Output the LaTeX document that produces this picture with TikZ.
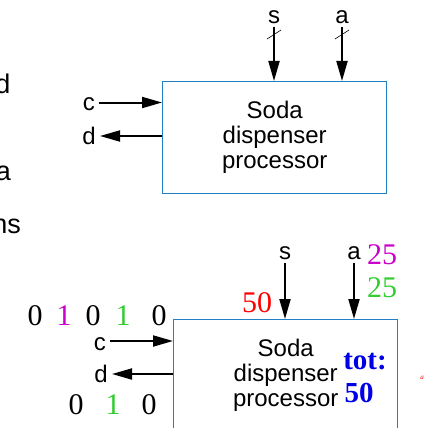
\documentclass[tikz,border=0pt]{standalone}
\usepackage{fontspec}
\setmainfont{Liberation Sans}
\newfontfamily\numfont{Liberation Serif}
\usetikzlibrary{arrows.meta}
\definecolor{boxblue}{RGB}{33,128,196}
\definecolor{bitmag}{RGB}{204,0,204}
\definecolor{bitgreen}{RGB}{51,204,51}
\definecolor{totblue}{RGB}{0,0,230}
\begin{document}
\begin{tikzpicture}[x=1pt,y=-1pt,
  lbl/.style={font=\fontsize{24}{26}\selectfont, inner sep=0pt},
  side/.style={font=\fontsize{27}{27}\selectfont, inner sep=0pt},
  proc/.style={draw=boxblue, line width=1.4pt, minimum width=224pt,
    minimum height=112pt, anchor=north west, inner sep=0pt, align=center,
    font=\fontsize{24}{25}\selectfont},
  sig/.style={line width=2pt, -{Triangle[length=20pt,width=11pt]}},
  bus/.style={line width=0.6pt},
  num/.style={font=\numfont\fontsize{30}{30}\selectfont, inner sep=0pt},
  tot/.style={font=\numfont\bfseries\fontsize{29}{29}\selectfont, inner sep=0pt, text=totblue},
]
\clip (0,0) rectangle (425,428);

% text running in from the left margin
\node[side, anchor=base east] (fragd) at (10.5,93) {d};
\node[side, anchor=base east] (fraga) at (11,180) {a};
\node[side, anchor=base east] (fragns) at (21,233) {ns};

% ---------- upper block: interface only ----------
\node[proc] (top) at (162,81) {Soda\\dispenser\\processor};

\coordinate (tcin)  at ([yshift=-21.5pt]top.north west);
\coordinate (tcsrc) at ([xshift=-63pt]tcin);
\draw[sig] (tcsrc) -- (tcin);
\node[lbl, anchor=east] (tc) at ([xshift=-4pt,yshift=-2pt]tcsrc) {c};

\coordinate (tdout) at ([yshift=-55pt]top.north west);
\coordinate (tddst) at ([xshift=-62pt]tdout);
\draw[sig] (tdout) -- (tddst);
\node[lbl, anchor=east] (td) at ([xshift=-4pt]tddst) {d};

\coordinate (tsin)  at ([xshift=112pt]top.north west);
\coordinate (tssrc) at ([yshift=54pt]tsin);
\draw[sig] (tssrc) -- (tsin);
\node[lbl, anchor=south] (ts) at ([yshift=3pt]tssrc) {s};
\draw[bus] ([xshift=-7pt,yshift=-12pt]tssrc) -- ([xshift=7pt,yshift=-3pt]tssrc);

\coordinate (tain)  at ([xshift=180pt]top.north west);
\coordinate (tasrc) at ([yshift=54pt]tain);
\draw[sig] (tasrc) -- (tain);
\node[lbl, anchor=south] (ta) at ([yshift=3pt]tasrc) {a};
\draw[bus] ([xshift=-7pt,yshift=-12pt]tasrc) -- ([xshift=7pt,yshift=-3pt]tasrc);

% ---------- lower block: with sample values ----------
\node[proc] (bot) at (173,319) {Soda\\dispenser\\processor};

\coordinate (bcin)  at ([yshift=-22pt]bot.north west);
\coordinate (bcsrc) at ([xshift=-63pt]bcin);
\draw[sig] (bcsrc) -- (bcin);
\node[lbl, anchor=east] (bc) at ([xshift=-4pt,yshift=-3pt]bcsrc) {c};

\coordinate (bdout) at ([yshift=-55pt]bot.north west);
\coordinate (bddst) at ([xshift=-61pt]bdout);
\draw[sig] (bdout) -- (bddst);
\node[lbl, anchor=east] (bd) at ([xshift=-4pt]bddst) {d};

\coordinate (bsin)  at ([xshift=112pt]bot.north west);
\coordinate (bssrc) at ([yshift=56pt]bsin);
\draw[sig] (bssrc) -- (bsin);
\node[lbl, anchor=south] (bs) at ([yshift=3pt]bssrc) {s};

\coordinate (bain)  at ([xshift=181pt]bot.north west);
\coordinate (basrc) at ([yshift=56pt]bain);
\draw[sig] (basrc) -- (bain);
\node[lbl, anchor=south] (ba) at ([yshift=3pt]basrc) {a};

% input bit stream on c
\node[num] (c1) at (35,316) {0};
\node[num, text=bitmag] (c2) at (64,316) {1};
\node[num] (c3) at (93,316) {0};
\node[num, text=bitgreen] (c4) at (123,316) {1};
\node[num] (c5) at (159,316) {0};

% output bit stream on d
\node[num] (d1) at (76,405) {0};
\node[num, text=bitgreen] (d2) at (113,405) {1};
\node[num] (d3) at (149,405) {0};

% values on s and a
\node[num, text=red] (sval) at (257,303) {50};
\node[num, text=bitmag] (aval1) at (382,255) {25};
\node[num, text=bitgreen] (aval2) at (382,288) {25};

% running total
\node[tot] (totl) at (365,362) {tot:};
\node[tot] (totv) at (359,393) {50};

\node[font=\numfont\itshape\fontsize{7}{7}\selectfont, text=red, inner sep=0pt] (mark) at (422,378) {a};
\end{tikzpicture}
\end{document}
